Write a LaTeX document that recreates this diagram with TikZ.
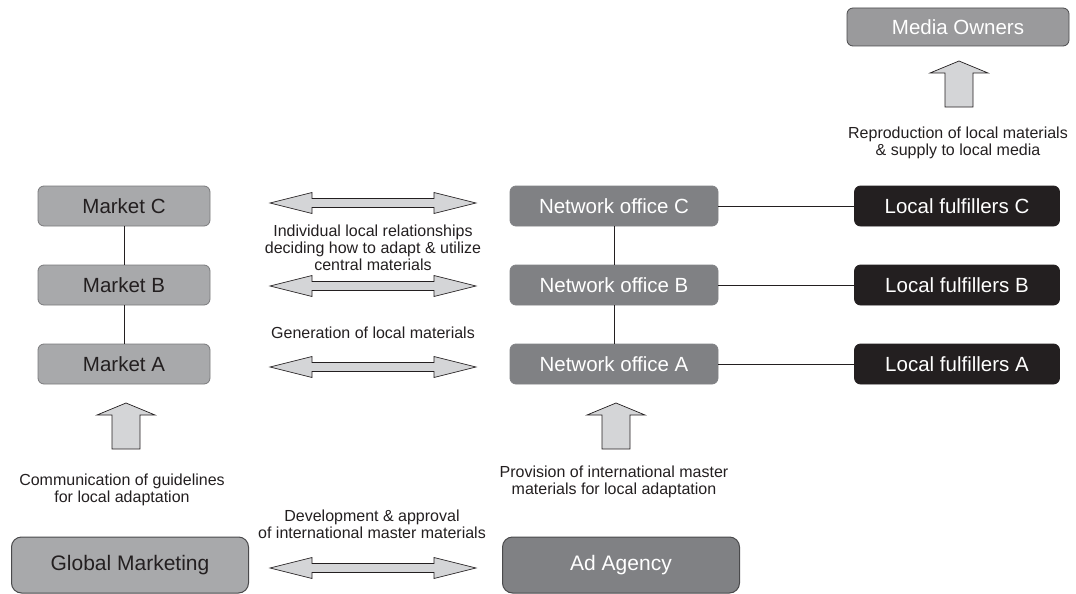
\documentclass[tikz,border=0pt]{standalone}
\usepackage{fontspec}
\setmainfont{Liberation Sans}
\definecolor{mkt}{HTML}{A8A9AB}
\definecolor{mktb}{HTML}{7A7A7C}
\definecolor{net}{HTML}{808184}
\definecolor{ful}{HTML}{231F20}
\definecolor{media}{HTML}{9A9A9C}
\definecolor{arr}{HTML}{D4D5D7}
\definecolor{ink}{HTML}{231F20}
\definecolor{edge}{HTML}{4A4A4C}
\begin{document}
\begin{tikzpicture}[x=1pt,y=-1pt,
  box/.style={rounded corners=6pt, minimum height=40pt, inner sep=0pt, font=\fontsize{20.5}{24}\selectfont, line width=0.8pt},
  mktbox/.style={box, fill=mkt, draw=mktb, text=ink, minimum width=172pt},
  netbox/.style={box, fill=net, draw=net, text=white, minimum width=208pt},
  fulbox/.style={box, fill=ful, draw=ful, text=white, minimum width=205pt},
  bigbox/.style={rounded corners=10pt, minimum height=56pt, minimum width=237pt, inner sep=0pt, font=\fontsize{21}{25}\selectfont, draw=edge, line width=1pt},
  lbl/.style={font=\fontsize{16}{17}\selectfont, text=ink, align=center, inner sep=0pt},
  conn/.style={draw=ink, line width=0.8pt},
  fatarrow/.style={fill=arr, draw=ink, line width=0.7pt, line join=miter}
]
\useasboundingbox (0,0) rectangle (1076,594);

% boxes
\node[box, fill=media, draw=edge, text=white, minimum width=222pt, minimum height=38pt] (media) at (958,27) {Media Owners};

\node[mktbox] (mC) at (124,206) {Market C};
\node[mktbox] (mB) at (124,285) {Market B};
\node[mktbox] (mA) at (124,364) {Market A};

\node[netbox] (nC) at (614,206) {Network office C};
\node[netbox] (nB) at (614,285) {Network office B};
\node[netbox] (nA) at (614,364) {Network office A};

\node[fulbox] (fC) at (957,206) {Local fulfillers C};
\node[fulbox] (fB) at (957,285) {Local fulfillers B};
\node[fulbox] (fA) at (957,364) {Local fulfillers A};

\node[bigbox, fill=mkt, text=ink] (gm) at (130,565) {Global Marketing};
\node[bigbox, fill=net, text=white] (ad) at (621,565) {Ad Agency};

% connectors
\draw[conn] (mC) -- (mB);
\draw[conn] (mB) -- (mA);
\draw[conn] (nC) -- (nB);
\draw[conn] (nB) -- (nA);
\draw[conn] (nC) -- (fC);
\draw[conn] (nB) -- (fB);
\draw[conn] (nA) -- (fA);

% double arrow anchors
\coordinate (dC) at (373,203);
\coordinate (dB) at (373,286);
\coordinate (dA) at (373,367);
\coordinate (dG) at (373,568);
\foreach \c in {dC,dB,dA,dG}{
  \draw[fatarrow, shift={(\c)}] (-103,0) -- (-61,-10.5) -- (-61,-4.5) -- (61,-4.5) -- (61,-10.5)
     -- (103,0) -- (61,10.5) -- (61,4.5) -- (-61,4.5) -- (-61,10.5) -- cycle;
}

% up arrows (tip coordinates)
\coordinate (uM) at (959,61);
\coordinate (uL) at (126,403);
\coordinate (uR) at (616,403);
\foreach \c in {uM,uL,uR}{
  \draw[fatarrow, shift={(\c)}] (0,0) -- (29,12) -- (14,12) -- (14,46) -- (-14,46) -- (-14,12) -- (-29,12) -- cycle;
}

% labels
\node[lbl] (t1) at (958,143) {Reproduction of local materials\\\& supply to local media};
\node[lbl] (t2) at (373,248) {Individual local relationships\\deciding how to adapt \& utilize\\central materials};
\node[lbl] (t3) at (373,333) {Generation of local materials};
\node[lbl] (t4) at (122,490) {Communication of guidelines\\for local adaptation};
\node[lbl] (t5) at (614,482) {Provision of international master\\materials for local adaptation};
\node[lbl] (t6) at (372,524) {Development \& approval\\of international master materials};
\end{tikzpicture}
\end{document}
